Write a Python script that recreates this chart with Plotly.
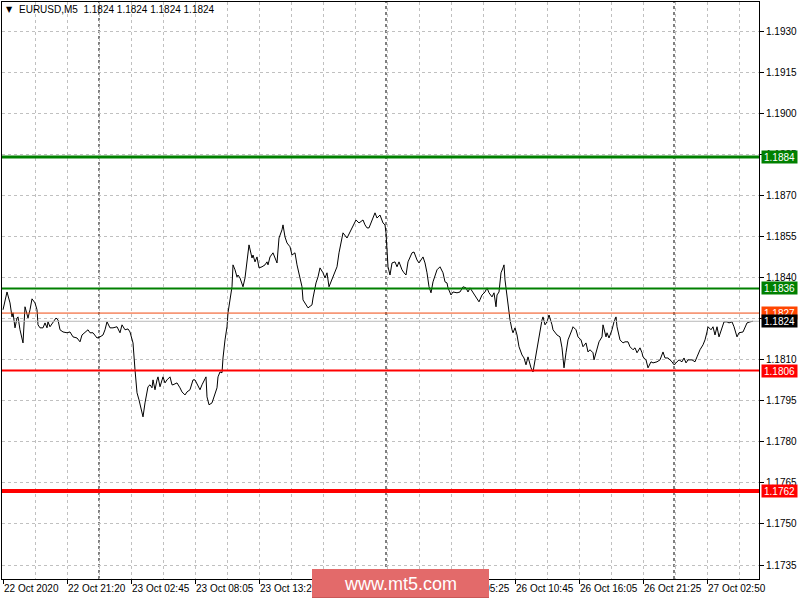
import plotly.graph_objects as go

# ---------------- data ----------------
title_symbol = "EURUSD,M5"
title_ohlc = ["1.1824", "1.1824", "1.1824", "1.1824"]

# bar number (5-minute bars since 22 Oct 2020 16:00, weekend removed)
bar_index = [
    0, 4, 7, 9, 10, 12, 14, 15, 17, 19, 20, 22, 24, 25, 27, 29, 32, 34, 35, 37,
    40, 42, 44, 45, 47, 50, 53, 55, 57, 60, 64, 67, 70, 74, 77, 79, 82, 85, 87, 90,
    94, 97, 100, 102, 104, 107, 110, 114, 117, 119, 122, 125, 127, 130, 132, 134, 136, 139, 140, 142,
    144, 145, 147, 149, 150, 152, 154, 155, 157, 159, 160, 162, 164, 167, 169, 170, 174, 177, 179, 182,
    184, 187, 190, 192, 195, 197, 199, 201, 203, 204, 206, 209, 212, 214, 215, 217, 219, 220, 222, 224,
    225, 227, 229, 230, 232, 234, 235, 237, 240, 242, 244, 246, 249, 250, 252, 254, 256, 259, 262, 264,
    265, 267, 270, 272, 274, 276, 279, 280, 282, 284, 287, 289, 292, 294, 297, 299, 300, 303, 305, 309,
    310, 313, 315, 317, 320, 322, 324, 326, 329, 332, 334, 336, 339, 340, 344, 347, 350, 353, 356, 360,
    362, 364, 366, 369, 372, 374, 377, 380, 382, 383, 384, 385, 387, 389, 392, 394, 396, 399, 401, 403,
    405, 409, 411, 414, 416, 420, 422, 424, 426, 428, 430, 432, 434, 437, 440, 442, 444, 445, 448, 450,
    454, 457, 460, 463, 465, 467, 470, 474, 476, 479, 482, 484, 486, 489, 491, 493, 494, 496, 498, 500,
    501, 502, 504, 505, 507, 509, 510, 512, 514, 516, 519, 521, 523, 525, 528, 530, 532, 534, 536, 539,
    540, 542, 544, 546, 549, 550, 554, 557, 559, 561, 563, 565, 569, 570, 573, 575, 578, 580, 583, 585,
    587, 590, 591, 594, 596, 599, 600, 603, 604, 606, 609, 611, 613, 614, 617, 620, 622, 625, 627, 630,
    632, 634, 637, 639, 640, 643, 645, 648, 650, 654, 657, 660, 662, 665, 669, 671, 674, 676, 679, 681,
    683, 685, 689, 692, 694, 697, 700, 702, 704, 705, 708, 710, 712, 714, 716, 719, 721, 724, 726, 729,
    731, 734, 736, 740, 742, 744, 747, 750,
]

close = [
    1.18282, 1.18347, 1.18307, 1.18256, 1.18271, 1.18216, 1.18252, 1.18256, 1.18209, 1.18183,
    1.18161, 1.18293, 1.18271, 1.18252, 1.18282, 1.18322, 1.18307, 1.18282, 1.18227, 1.18216,
    1.18216, 1.18234, 1.18216, 1.18238, 1.18220, 1.18234, 1.18252, 1.18245, 1.18209, 1.18201,
    1.18198, 1.18201, 1.18183, 1.18179, 1.18165, 1.18190, 1.18198, 1.18209, 1.18198, 1.18198,
    1.18179, 1.18183, 1.18190, 1.18209, 1.18238, 1.18216, 1.18216, 1.18220, 1.18198, 1.18227,
    1.18209, 1.18212, 1.18201, 1.18161, 1.18063, 1.17979, 1.17953, 1.17898, 1.17891, 1.17942,
    1.17979, 1.18001, 1.18008, 1.17997, 1.18026, 1.17990, 1.18026, 1.18037, 1.18001, 1.18033,
    1.18037, 1.18015, 1.18026, 1.18037, 1.18008, 1.18008, 1.18015, 1.17997, 1.17982, 1.17971,
    1.17982, 1.17990, 1.18026, 1.18026, 1.18001, 1.17990, 1.18008, 1.18026, 1.18037, 1.17964,
    1.17935, 1.17942, 1.17971, 1.17997, 1.18037, 1.18055, 1.18052, 1.18106, 1.18172, 1.18220,
    1.18271, 1.18318, 1.18366, 1.18446, 1.18428, 1.18402, 1.18409, 1.18398, 1.18366, 1.18398,
    1.18464, 1.18519, 1.18471, 1.18482, 1.18457, 1.18475, 1.18435, 1.18439, 1.18446, 1.18457,
    1.18446, 1.18475, 1.18490, 1.18471, 1.18453, 1.18544, 1.18574, 1.18592, 1.18548, 1.18526,
    1.18512, 1.18482, 1.18490, 1.18446, 1.18398, 1.18366, 1.18318, 1.18300, 1.18289, 1.18300,
    1.18325, 1.18380, 1.18402, 1.18435, 1.18417, 1.18398, 1.18417, 1.18366, 1.18391, 1.18420,
    1.18439, 1.18490, 1.18537, 1.18563, 1.18544, 1.18566, 1.18585, 1.18610, 1.18599, 1.18610,
    1.18592, 1.18581, 1.18581, 1.18610, 1.18636, 1.18617, 1.18628, 1.18599, 1.18592, 1.18563,
    1.18501, 1.18439, 1.18409, 1.18453, 1.18457, 1.18439, 1.18457, 1.18428, 1.18417, 1.18409,
    1.18457, 1.18490, 1.18493, 1.18464, 1.18453, 1.18475, 1.18453, 1.18417, 1.18366, 1.18344,
    1.18384, 1.18409, 1.18428, 1.18439, 1.18417, 1.18384, 1.18380, 1.18362, 1.18336, 1.18347,
    1.18344, 1.18347, 1.18366, 1.18362, 1.18347, 1.18362, 1.18344, 1.18325, 1.18311, 1.18336,
    1.18347, 1.18362, 1.18344, 1.18329, 1.18344, 1.18293, 1.18336, 1.18347, 1.18417, 1.18435,
    1.18446, 1.18391, 1.18325, 1.18293, 1.18245, 1.18209, 1.18198, 1.18216, 1.18190, 1.18147,
    1.18117, 1.18106, 1.18081, 1.18110, 1.18070, 1.18055, 1.18099, 1.18136, 1.18172, 1.18245,
    1.18256, 1.18227, 1.18238, 1.18263, 1.18227, 1.18209, 1.18190, 1.18183, 1.18143, 1.18070,
    1.18125, 1.18172, 1.18209, 1.18220, 1.18209, 1.18183, 1.18172, 1.18147, 1.18161, 1.18128,
    1.18136, 1.18125, 1.18099, 1.18136, 1.18165, 1.18183, 1.18227, 1.18183, 1.18198, 1.18179,
    1.18209, 1.18238, 1.18256, 1.18220, 1.18172, 1.18161, 1.18165, 1.18165, 1.18147, 1.18136,
    1.18143, 1.18125, 1.18143, 1.18125, 1.18110, 1.18099, 1.18070, 1.18092, 1.18088, 1.18092,
    1.18099, 1.18128, 1.18106, 1.18106, 1.18092, 1.18081, 1.18092, 1.18099, 1.18092, 1.18106,
    1.18088, 1.18099, 1.18099, 1.18092, 1.18110, 1.18136, 1.18154, 1.18172, 1.18201, 1.18220,
    1.18209, 1.18220, 1.18190, 1.18220, 1.18183, 1.18216, 1.18238, 1.18238, 1.18234, 1.18238,
    1.18220, 1.18183, 1.18198, 1.18201, 1.18216, 1.18234, 1.18238, 1.18240,
]
assert len(bar_index) == len(close)

x_tick_bars = [0, 64, 128, 192, 256, 320, 384, 448, 512, 576, 640, 704]
x_tick_labels = ["22 Oct 2020", "22 Oct 21:20", "23 Oct 02:45", "23 Oct 08:05",
                 "23 Oct 13:25", "23 Oct 18:45", "26 Oct 00:05", "26 Oct 05:25",
                 "26 Oct 10:45", "26 Oct 16:05", "26 Oct 21:25", "27 Oct 02:50"]
day_separator_bars = [96, 383, 671]

y_tick_values = [1.1735, 1.1750, 1.1765, 1.1780, 1.1795, 1.1810, 1.1825,
                 1.1840, 1.1855, 1.1870, 1.1885, 1.1900, 1.1915, 1.1930]

support_resistance = [1.1884, 1.1836, 1.1806, 1.1762]
ask_price = 1.1827
bid_price = 1.1824
watermark_text = "www.mt5.com"

# ---------------- styles ----------------
FONT = "Tahoma, 'Liberation Sans', Arial, sans-serif"
GREEN = "#008000"
RED = "#FF0000"
level_styles = {1.1884: (GREEN, 3), 1.1836: (GREEN, 2), 1.1806: (RED, 2), 1.1762: (RED, 4)}
GRID = "#C0C0C0"

# plot area in pixels: x 2..759, y 2..579
L, R, T, B = 2, 759, 2, 579
W, H = R - L, B - T


def px_x(p):
    return (p - L) / W


def px_y(p):
    return (B - p) / H


fig = go.Figure()
fig.add_trace(go.Scatter(x=bar_index, y=close, mode="lines",
                         line=dict(color="black", width=1), hoverinfo="skip",
                         showlegend=False))

shapes = []
annotations = []

# day separators
for b in day_separator_bars:
    shapes.append(dict(type="line", xref="x", yref="paper", x0=b, x1=b, y0=0, y1=1,
                       line=dict(color="black", width=1, dash="3px,3px"), layer="between"))

# bid / ask lines
shapes.append(dict(type="line", xref="paper", yref="y", x0=0, x1=1, y0=ask_price, y1=ask_price,
                   line=dict(color="#F04A10", width=1), layer="above"))
shapes.append(dict(type="line", xref="paper", yref="y", x0=0, x1=1, y0=bid_price, y1=bid_price,
                   line=dict(color="#B8B8B8", width=1), layer="above"))

# support / resistance levels
for lv in support_resistance:
    col, w = level_styles[lv]
    shapes.append(dict(type="line", xref="paper", yref="y", x0=0, x1=1, y0=lv, y1=lv,
                       line=dict(color=col, width=w), layer="above"))


# price tags on the right
def tag(value, bg):
    annotations.append(dict(xref="paper", yref="y", x=px_x(761), y=value, xanchor="left",
                            yanchor="middle", text=f"{value:.4f}", showarrow=False,
                            bgcolor=bg, font=dict(family=FONT, size=10, color="white"),
                            width=33, height=10, borderpad=1, align="center"))


for lv in support_resistance:
    tag(lv, level_styles[lv][0])
tag(ask_price, "#FF4500")
tag(bid_price, "black")

# title
annotations.append(dict(xref="paper", yref="paper", x=px_x(4), y=px_y(10), xanchor="left",
                        yanchor="middle", text="▼", showarrow=False,
                        font=dict(family="DejaVu Sans", size=8, color="black")))
annotations.append(dict(xref="paper", yref="paper", x=px_x(17), y=px_y(10), xanchor="left",
                        yanchor="middle", text=title_symbol + "  " + " ".join(title_ohlc),
                        showarrow=False, font=dict(family=FONT, size=10, color="black")))

# watermark
shapes.append(dict(type="rect", xref="paper", yref="paper", x0=px_x(312), x1=px_x(489),
                   y0=px_y(598), y1=px_y(569), fillcolor="#E36A6A", line=dict(width=0),
                   layer="above"))
shapes.append(dict(type="line", xref="paper", yref="paper", x0=px_x(312), x1=px_x(489),
                   y0=px_y(597.5), y1=px_y(597.5), line=dict(color="#C95757", width=1),
                   layer="above"))
annotations.append(dict(xref="paper", yref="paper", x=px_x(400.5), y=px_y(584), xanchor="center",
                        yanchor="middle", text=watermark_text, showarrow=False,
                        font=dict(family="'Liberation Sans', Arial, sans-serif", size=18,
                                  color="white")))

fig.update_layout(
    width=800, height=600,
    margin=dict(l=L, r=800 - R, t=T, b=600 - B, pad=0, autoexpand=False),
    paper_bgcolor="white", plot_bgcolor="white",
    shapes=shapes, annotations=annotations,
    showlegend=False,
    xaxis=dict(range=[-1, W - 1], tickmode="array", tickvals=x_tick_bars,
               ticktext=x_tick_labels, ticks="outside", ticklen=4, tickcolor="black",
               ticklabelposition="outside right", tickangle=0, automargin=False,
               tickfont=dict(family=FONT, size=10, color="black"),
               showgrid=True, gridcolor=GRID, griddash="3px,3px", gridwidth=1,
               minor=dict(tickmode="linear", tick0=32, dtick=64, showgrid=True,
                          gridcolor=GRID, griddash="3px,3px", ticks=""),
               showline=True, linecolor="black", linewidth=1, mirror=True,
               zeroline=False, fixedrange=True),
    yaxis=dict(range=[1.1930 - (B - 31) * 0.0000365163, 1.1930 + (31 - T) * 0.0000365163],
               side="right", tickmode="array", tickvals=y_tick_values, tickformat=".4f",
               ticks="outside", ticklen=4, tickcolor="black", automargin=False,
               tickfont=dict(family=FONT, size=10, color="black"),
               showgrid=True, gridcolor=GRID, griddash="3px,3px", gridwidth=1,
               showline=True, linecolor="black", linewidth=1, mirror=True,
               zeroline=False, fixedrange=True),
)

fig.write_html("out.html", config={"displayModeBar": False},
               post_script="document.body.style.margin='0';document.body.style.overflow='hidden';")
